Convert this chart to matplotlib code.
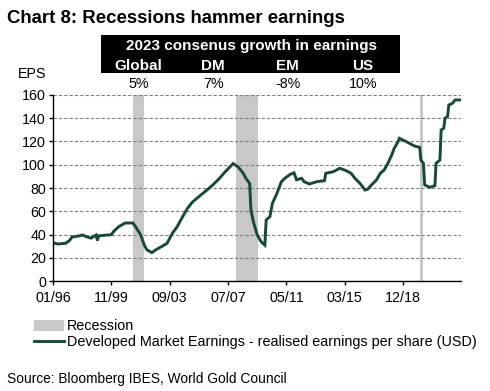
import matplotlib
matplotlib.use("Agg")
import matplotlib.pyplot as plt
import matplotlib.dates as mdates
import pandas as pd
from matplotlib.patches import Rectangle

plt.rcParams['font.family'] = ['Liberation Sans', 'DejaVu Sans']

# ---- data ----
dates = ["1996-01", "1996-05", "1996-11", "1997-02", "1997-04", "1997-10", "1997-12",
         "1998-04", "1998-07", "1998-11", "1998-12", "1999-01", "1999-11", "2000-01",
         "2000-05", "2000-10", "2001-04", "2001-06", "2001-10", "2002-01", "2002-03",
         "2002-07", "2002-10", "2003-03", "2003-07", "2003-11", "2004-03", "2004-07",
         "2004-11", "2005-03", "2005-08", "2006-02", "2006-07", "2006-12", "2007-04",
         "2007-11", "2008-03", "2008-07", "2008-09", "2008-12", "2009-01", "2009-03",
         "2009-06", "2009-09", "2009-12", "2010-01", "2010-04", "2010-06", "2010-09",
         "2011-01", "2011-04", "2011-08", "2011-11", "2012-01", "2012-05", "2012-07",
         "2012-11", "2013-05", "2013-11", "2013-12", "2014-06", "2014-11", "2015-04",
         "2015-08", "2015-11", "2016-03", "2016-07", "2016-09", "2016-12", "2017-04",
         "2017-07", "2017-10", "2018-01", "2018-04", "2018-06", "2018-09", "2018-10",
         "2019-02", "2019-06", "2019-10", "2020-02", "2020-03", "2020-05", "2020-06",
         "2020-10", "2021-02", "2021-03", "2021-06", "2021-07", "2021-09", "2021-10",
         "2021-12", "2022-01", "2022-04", "2022-06", "2022-10"]
eps = [33, 32, 32.6, 35, 38, 39, 39.7,
       38, 37, 39.7, 35, 39, 40, 43,
       47, 50, 50, 47, 40, 31, 27,
       24.6, 27, 30, 32.6, 41, 47, 55,
       62.6, 68, 72.6, 78, 82.6, 88, 93,
       101, 98, 92.6, 88.3, 84, 61, 51,
       39.7, 34, 31, 52.6, 55.4, 67, 74,
       85.4, 88.5, 91.7, 93, 87, 88.3, 85.4,
       83.4, 85.4, 86.3, 92.6, 94, 96.9, 94.9,
       92.6, 88.3, 84, 78.3, 78.9, 82.6, 86.9,
       92.6, 95.4, 101.2, 108.3, 114, 119.7, 122.6,
       120.6, 118.3, 116, 114.9, 104, 101.2, 82.6,
       80.6, 82, 101.2, 104, 129.8, 131.2, 139.8,
       141.2, 151.2, 152.7, 155.5, 155.5]

recession_start = ["2001-04-10", "2008-01-18", "2020-02-13"]
recession_end = ["2001-12-15", "2009-07-01", "2020-05-01"]

box_title = "2023 consenus growth in earnings"
regions = ["Global", "DM", "EM", "US"]
growth = ["5%", "7%", "-8%", "10%"]

tick_start = "1996-01-01"
tick_step_days = 1400
n_ticks = 7

# ---- figure ----
W, H = 490, 391
fig = plt.figure(figsize=(W / 100, H / 100), dpi=100)

def fx(px):
    return px / W

def fy(py):
    return 1 - py / H

ax = fig.add_axes([fx(53), fy(281.3), fx(461) - fx(53), fy(94.7) - fy(281.3)])

green = "#17483a"
gray = "#c8c8c8"

x = pd.to_datetime(dates)
for s, e in zip(recession_start, recession_end):
    ax.axvspan(pd.Timestamp(s), pd.Timestamp(e), color=gray, lw=0, zorder=1,
               label="Recession" if s == recession_start[0] else None)
ax.plot(x, eps, color=green, lw=2.1, zorder=3, solid_joinstyle='miter',
        label="Developed Market Earnings - realised earnings per share (USD)")

ax.set_ylim(0, 160)
ax.set_yticks(range(0, 161, 20))
ax.set_xlim(pd.Timestamp("1996-01-01"), pd.Timestamp("2022-10-20"))
ticks = [pd.Timestamp(tick_start) + pd.Timedelta(days=tick_step_days * k) for k in range(n_ticks)]
ax.set_xticks(ticks)
ax.xaxis.set_major_formatter(mdates.DateFormatter("%m/%y"))

ax.yaxis.grid(True, color="#7f7f7f", linestyle=(0, (3, 1.8)), lw=0.8, zorder=2)
ax.set_axisbelow(False)
for sp in ["top", "right"]:
    ax.spines[sp].set_visible(False)
for sp in ["left", "bottom"]:
    ax.spines[sp].set_color("black")
    ax.spines[sp].set_linewidth(1.0)
    ax.spines[sp].set_zorder(4)
ax.tick_params(axis="y", length=3, width=1, pad=2, labelsize=10.3, colors="black")
ax.tick_params(axis="x", length=3, width=1, pad=4, labelsize=10.3, colors="black")

# title
fig.text(fx(7), fy(23), "Chart 8: Recessions hammer earnings", fontsize=13.4,
         fontweight="bold", ha="left", va="baseline")

# black box
fig.add_artist(Rectangle((fx(101), fy(72.7)), fx(400) - fx(101), fy(35) - fy(72.7),
                         transform=fig.transFigure, facecolor="black", edgecolor="none"))
fig.text(fx(251.5), fy(50), box_title, color="white", fontsize=11, fontweight="bold",
         ha="center", va="baseline")
col_x = [138.8, 213.3, 287.5, 362.7]
for cx, r, g in zip(col_x, regions, growth):
    fig.text(fx(cx), fy(70), r, color="white", fontsize=11, fontweight="bold",
             ha="center", va="baseline")
    fig.text(fx(cx), fy(88.3), g, color="black", fontsize=10.3, ha="center", va="baseline")

fig.text(fx(18.3), fy(78.3), "EPS", fontsize=10.3, ha="left", va="baseline")

# legend
leg = ax.legend(loc="upper left", bbox_to_anchor=(fx(34), fy(319.5)),
                bbox_transform=fig.transFigure, frameon=False, fontsize=10.4,
                handlelength=2.05, handletextpad=0.25, labelspacing=0.12,
                borderpad=0, borderaxespad=0)

fig.text(fx(6.7), fy(382.7), "Source: Bloomberg IBES, World Gold Council", fontsize=9.9,
         ha="left", va="baseline")

fig.savefig("out.png", dpi=100)
